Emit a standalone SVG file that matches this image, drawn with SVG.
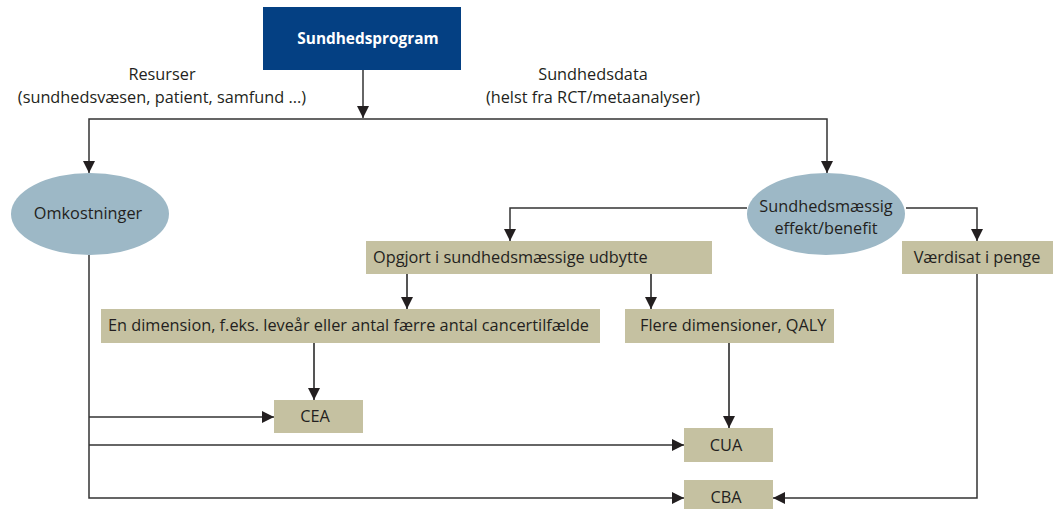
<svg xmlns="http://www.w3.org/2000/svg" width="1060" height="509" viewBox="0 0 1060 509">
<defs>
<style>
.t{font-family:"Open Sans","Liberation Sans",sans-serif;font-size:16.3px;fill:#231f20}
.tb{font-family:"Open Sans","Liberation Sans",sans-serif;font-size:15.4px;font-weight:bold;fill:#ffffff}
.box{fill:#c5c1a1}
.ell{fill:#9db8c6}
.c{fill:none;stroke:#333333;stroke-width:1.5}
.cg{fill:none;stroke:#555555;stroke-width:2}
</style>
<marker id="ah" markerUnits="userSpaceOnUse" markerWidth="13" markerHeight="12" refX="12" refY="6" orient="auto">
<path d="M0,0 L12,6 L0,12 z" fill="#231f20"/>
</marker>
</defs>
<rect width="1060" height="509" fill="#ffffff"/>
<g id="connectors">
<path class="c" d="M363,70 V118" marker-end="url(#ah)"/>
<path class="c" d="M363,119 H89 V173" marker-end="url(#ah)"/>
<path class="c" d="M363,119 H827 V173" marker-end="url(#ah)"/>
<path class="c" d="M747,208 H510 V241" marker-end="url(#ah)"/>
<path class="c" d="M906,208 H977 V241" marker-end="url(#ah)"/>
<path class="cg" d="M407,274 V309" marker-end="url(#ah)"/>
<path class="cg" d="M651,274 V309" marker-end="url(#ah)"/>
<path class="cg" d="M314,343 V400" marker-end="url(#ah)"/>
<path class="cg" d="M729,343 V428" marker-end="url(#ah)"/>
<path class="c" d="M89,255 V498 H684" marker-end="url(#ah)"/>
<path class="c" d="M89,417 H274" marker-end="url(#ah)"/>
<path class="c" d="M89,445 H684" marker-end="url(#ah)"/>
<path class="c" d="M977,274 V498 H773" marker-end="url(#ah)"/>
</g>
<g id="labels">
<text class="t" x="162" y="80" text-anchor="middle">Resurser</text>
<text class="t" x="162" y="103" text-anchor="middle">(sundhedsvæsen, patient, samfund ...)</text>
<text class="t" x="593" y="80" text-anchor="middle">Sundhedsdata</text>
<text class="t" x="593" y="103" text-anchor="middle">(helst fra RCT/metaanalyser)</text>
</g>
<g id="sundhedsprogram">
<rect x="263" y="7" width="198" height="63" fill="#044083"/>
<text class="tb" x="368" y="44" text-anchor="middle">Sundhedsprogram</text>
</g>
<g id="omkostninger">
<ellipse class="ell" cx="90" cy="214" rx="79" ry="41"/>
<text class="t" x="88" y="219" text-anchor="middle">Omkostninger</text>
</g>
<g id="effekt">
<ellipse class="ell" cx="826" cy="214" rx="79" ry="41"/>
<text class="t" x="826" y="212" text-anchor="middle">Sundhedsmæssig</text>
<text class="t" x="826" y="234" text-anchor="middle">effekt/benefit</text>
</g>
<g id="opgjort">
<rect class="box" x="366" y="241" width="346" height="33"/>
<text class="t" x="373" y="263">Opgjort i sundhedsmæssige udbytte</text>
</g>
<g id="vaerdisat">
<rect class="box" x="902" y="241" width="151" height="33"/>
<text class="t" x="977" y="263" text-anchor="middle">Værdisat i penge</text>
</g>
<g id="endimension">
<rect class="box" x="101" y="309" width="499" height="34"/>
<text class="t" x="108" y="331">En dimension, f.eks. leveår eller antal færre antal cancertilfælde</text>
</g>
<g id="flere">
<rect class="box" x="625" y="309" width="209" height="34"/>
<text class="t" x="640" y="331">Flere dimensioner, QALY</text>
</g>
<g id="cea">
<rect class="box" x="274" y="400" width="89" height="33"/>
<text class="t" x="315" y="422" text-anchor="middle">CEA</text>
</g>
<g id="cua">
<rect class="box" x="684" y="428" width="89" height="34"/>
<text class="t" x="726" y="451" text-anchor="middle">CUA</text>
</g>
<g id="cba">
<rect class="box" x="684" y="480" width="89" height="29"/>
<text class="t" x="726" y="503" text-anchor="middle">CBA</text>
</g>
</svg>
